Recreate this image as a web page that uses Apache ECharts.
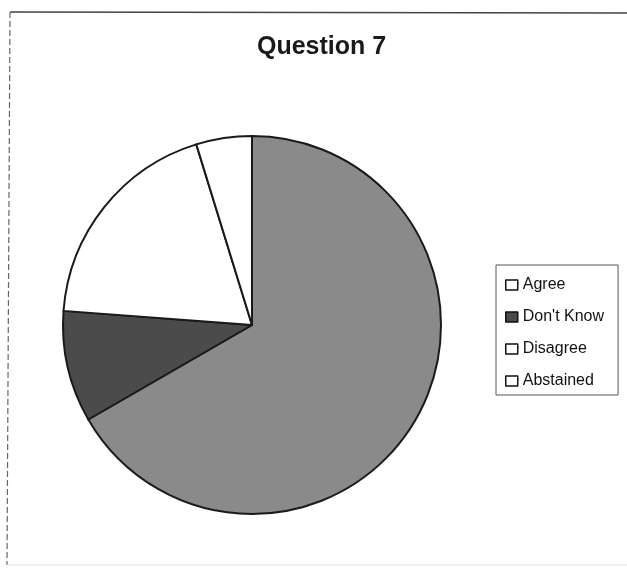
<!DOCTYPE html>
<html>
<head>
<meta charset="utf-8">
<script src="https://cdn.jsdelivr.net/npm/echarts@6/dist/echarts.min.js"></script>
<style>
html,body{margin:0;padding:0;background:#fff;}
#c{width:627px;height:568px;}
</style>
</head>
<body>
<div id="c"></div>
<script>
const titleText = 'Question 7';
const categories = ['Agree', "Don't Know", 'Disagree', 'Abstained'];
const values = [14, 2, 4, 1];
const colors = ['#8a8a8a', '#4b4b4b', '#ffffff', '#ffffff'];
const legendIconColors = ['#ffffff', '#4b4b4b', '#ffffff', '#ffffff'];

const chart = echarts.init(document.getElementById('c'), null, {renderer: 'canvas'});
const font = '"Liberation Sans", Arial, sans-serif';

chart.setOption({
  backgroundColor: '#ffffff',
  animation: false,
  title: {
    text: titleText,
    left: 257,
    top: 35,
    padding: 0,
    textStyle: {fontFamily: font, fontSize: 25, fontWeight: 'bold', color: '#1a1a1a'}
  },
  legend: {
    orient: 'vertical',
    left: 496,
    top: 265,
    padding: [12, 14, 6, 9],
    itemGap: 16,
    itemWidth: 12,
    itemHeight: 10,
    borderColor: '#555',
    borderWidth: 1,
    selectedMode: false,
    textStyle: {fontFamily: font, fontSize: 16, color: '#111'},
    data: categories.map((c, i) => ({
      name: c,
      icon: 'rect',
      itemStyle: {color: legendIconColors[i], borderColor: '#111', borderWidth: 1.5}
    }))
  },
  graphic: [
    {type: 'line', shape: {x1: 10, y1: 12, x2: 627, y2: 13}, style: {stroke: '#444', lineWidth: 1.5}},
    {type: 'line', shape: {x1: 10, y1: 12, x2: 7, y2: 565}, style: {stroke: '#666', lineWidth: 1.2, lineDash: [6, 3]}},
    {type: 'line', shape: {x1: 7, y1: 565, x2: 627, y2: 565}, style: {stroke: '#ddd', lineWidth: 1}}
  ],
  series: [{
    type: 'pie',
    center: [252, 325],
    radius: [0, 189],
    startAngle: 90,
    clockwise: true,
    silent: true,
    label: {show: false},
    labelLine: {show: false},
    itemStyle: {borderColor: '#1a1a1a', borderWidth: 2},
    data: categories.map((c, i) => ({name: c, value: values[i], itemStyle: {color: colors[i]}}))
  }]
});
</script>
</body>
</html>
